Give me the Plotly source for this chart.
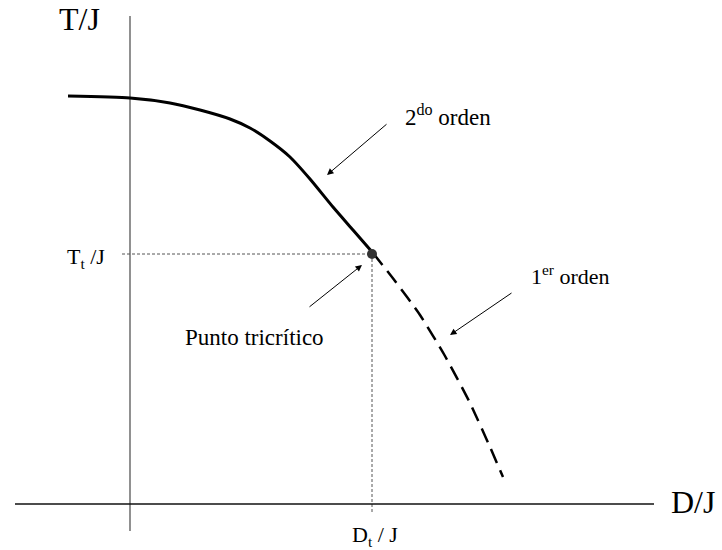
import plotly.graph_objects as go

# Schematic phase diagram (arbitrary units): temperature T/J versus anisotropy D/J
# Second-order branch (solid) up to the tricritical point
d_second = [-0.62, 0.0, 0.40, 0.70, 1.00, 1.20, 1.40, 1.60, 1.80, 2.03, 2.23, 2.43]
t_second = [4.08, 4.06, 4.01, 3.94, 3.85, 3.76, 3.63, 3.47, 3.25, 2.97, 2.74, 2.51]

# First-order branch (dashed) beyond the tricritical point
d_first = [2.43, 2.65, 2.90, 3.15, 3.40, 3.60, 3.73]
t_first = [2.51, 2.23, 1.89, 1.48, 1.01, 0.57, 0.27]

# Tricritical point
d_t = 2.42
t_t = 2.50

# Axis extents (data units)
y_axis_top, y_axis_bottom = 4.88, -0.27
x_axis_left, x_axis_right = -1.15, 5.24

FONT = "Liberation Serif"

fig = go.Figure()

# Dotted guides to the tricritical point
fig.add_trace(go.Scatter(x=[-0.08, d_t], y=[t_t, t_t], mode="lines",
                         line=dict(color="#555555", width=1, dash="3px,2px"),
                         hoverinfo="skip"))
fig.add_trace(go.Scatter(x=[d_t, d_t], y=[t_t, -0.08], mode="lines",
                         line=dict(color="#555555", width=1, dash="3px,2px"),
                         hoverinfo="skip"))

# Coordinate axes
fig.add_trace(go.Scatter(x=[0, 0], y=[y_axis_top, y_axis_bottom], mode="lines",
                         line=dict(color="#555555", width=1.3), hoverinfo="skip"))
fig.add_trace(go.Scatter(x=[x_axis_left, x_axis_right], y=[0, 0], mode="lines",
                         line=dict(color="#111111", width=1.5), hoverinfo="skip"))

# Phase boundaries
fig.add_trace(go.Scatter(x=d_second, y=t_second, mode="lines",
                         line=dict(color="black", width=3, shape="spline", smoothing=0.6),
                         hoverinfo="skip"))
fig.add_trace(go.Scatter(x=d_first, y=t_first, mode="lines",
                         line=dict(color="black", width=2.5, shape="spline", smoothing=0.6,
                                   dash="15px,8px"),
                         hoverinfo="skip"))
fig.add_trace(go.Scatter(x=[d_t], y=[t_t], mode="markers",
                         marker=dict(color="#333333", size=10),
                         hoverinfo="skip"))

annotations = [
    dict(x=-0.51, y=4.85, text="T/J", font=dict(size=32)),
    dict(x=5.63, y=0.02, text="D/J", font=dict(size=32)),
    dict(x=2.73, y=3.89, text="2<sup>do</sup> orden", xanchor="left", font=dict(size=23)),
    dict(x=-0.23, y=2.46, text="T<sub>t</sub> /J", xanchor="right", font=dict(size=22)),
    dict(x=1.24, y=1.67, text="Punto tricrítico", font=dict(size=23)),
    dict(x=3.99, y=2.29, text="1<sup>er</sup> orden", xanchor="left", font=dict(size=22)),
    dict(x=2.45, y=-0.32, text="D<sub>t</sub> / J", font=dict(size=22)),
]
for a in annotations:
    a.update(showarrow=False, xref="x", yref="y")
    a.setdefault("xanchor", "center")
    a["yanchor"] = "middle"
    a["font"].update(family=FONT, color="black")

# Pointer arrows: (head x, head y, tail x, tail y)
arrows = [
    (1.97, 3.29, 2.58, 3.81),
    (2.32, 2.39, 1.78, 1.96),
    (3.20, 1.69, 3.83, 2.12),
]
for hx, hy, tx, ty in arrows:
    annotations.append(dict(x=hx, y=hy, ax=tx, ay=ty, xref="x", yref="y",
                            axref="x", ayref="y", text="", showarrow=True,
                            arrowhead=2, arrowsize=1.3, arrowwidth=1,
                            arrowcolor="black", standoff=0))

fig.update_layout(
    width=722, height=550, autosize=False,
    margin=dict(l=0, r=0, t=0, b=0),
    paper_bgcolor="white", plot_bgcolor="white",
    showlegend=False,
    font=dict(family=FONT, color="black"),
    xaxis=dict(range=[-1.30, 5.92], visible=False, fixedrange=True),
    yaxis=dict(range=[-0.46, 5.04], visible=False, fixedrange=True),
    annotations=annotations,
)

fig.write_html("out.html")
